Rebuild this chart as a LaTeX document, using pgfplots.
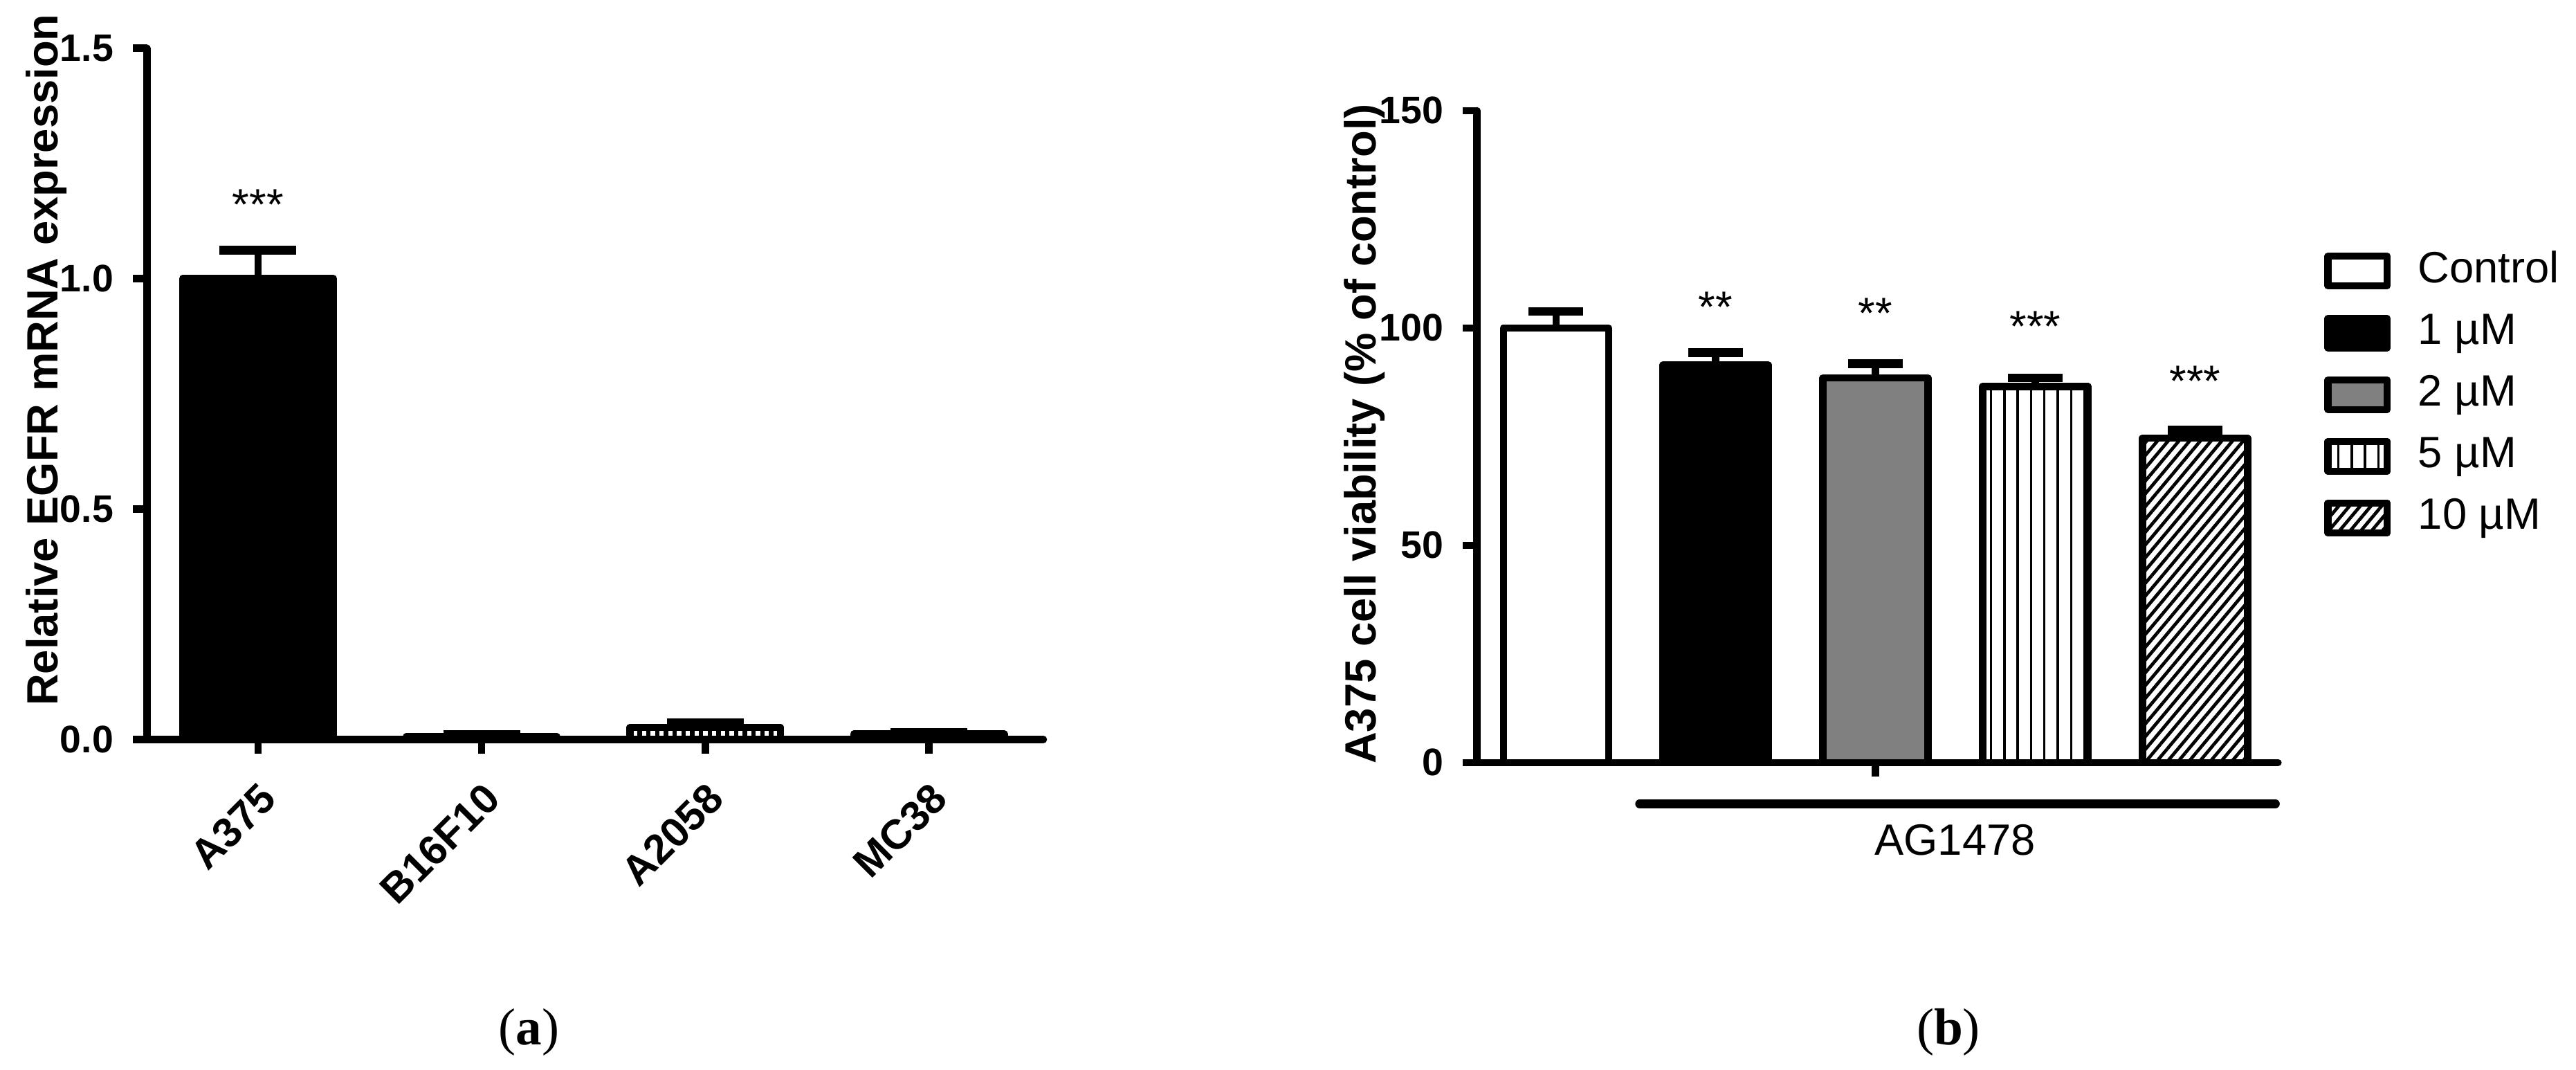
\documentclass[border=0pt]{standalone}
\usepackage{pgfplots}
\pgfplotsset{compat=1.18}
\usepackage{fontspec}
\setmainfont{Liberation Sans}
\newfontfamily\serif{Liberation Serif}
\usetikzlibrary{patterns,patterns.meta}

\begin{document}
\begin{tikzpicture}
\useasboundingbox (0,0) rectangle (470.4pt,195.3pt);
\tikzset{star/.style={font=\fontsize{8}{9}\selectfont}}
\pgfplotsset{
  gp/.style={
    scale only axis, axis x line*=bottom, axis y line*=left,
    axis line style={line width=1.3pt, line cap=round},
    tick style={line width=1.3pt, black},
    major tick length=2.6pt, tick align=outside,
    enlargelimits=false, clip=false,
    ybar, bar shift=0pt,
    tick label style={font=\fontsize{7}{8}\selectfont\bfseries},
    ylabel style={font=\fontsize{8}{9.6}\selectfont\bfseries},
    every axis plot/.append style={line width=1.3pt, draw=black, line join=round},
    /pgf/number format/assume math mode=true,
    error bars/y dir=plus, error bars/y explicit,
    error bars/error bar style={line width=1.3pt},
  },
}

% (a) EGFR mRNA expression
\begin{axis}[gp, at={(26.85pt,60.3pt)}, anchor=south west,
  width=163.7pt, height=126.2pt,
  xmin=-0.496, xmax=3.512, ymin=0, ymax=1.5,
  ytick={0,0.5,1,1.5},
  y tick label style={/pgf/number format/.cd, fixed, fixed zerofill, precision=1},
  xtick={0,1,2,3}, xticklabels={A375,B16F10,A2058,MC38},
  x tick label style={rotate=45, anchor=north east, font=\fontsize{7.6}{8.6}\selectfont\bfseries},
  ylabel={Relative EGFR mRNA expression},
  ylabel style={at={(axis description cs:-0.112,0.549)}, anchor=center},
  bar width=27.5pt,
  error bars/error mark options={mark size=7pt, line width=1.6pt, rotate=90},
]
\addplot[fill=black] coordinates {(0,1.0) +- (0,0.062) (1,0.006) +- (0,0.004) (3,0.012) +- (0,0.003)};
\addplot[preaction={fill=white}, pattern={Lines[angle=90,distance=1.6pt,line width=0.8pt]}] coordinates {(2,0.026) +- (0,0.010)};
\node[star] at (axis cs:0,1.16) {***};
\end{axis}

% (b) cell viability
\begin{axis}[gp, at={(269.7pt,56.1pt)}, anchor=south west,
  width=146.3pt, height=119pt,
  xmin=-0.494, xmax=4.52, ymin=0, ymax=150,
  ytick={0,50,100,150},
  xtick={2}, xticklabels={},
  ylabel={A375 cell viability (\% of control)},
  ylabel style={at={(axis description cs:-0.140,0.504)}, anchor=center},
  bar width=19.2pt,
  error bars/error mark options={mark size=5pt, line width=1.6pt, rotate=90},
  legend style={draw=none, fill=none, at={(axis description cs:1.036,0.82)}, anchor=north west,
    font=\fontsize{8}{9.6}\selectfont, row sep=0.2pt, column sep=3pt, cells={anchor=west}},
  legend image code/.code={\draw[#1, line width=1.3pt] (0pt,-2.7pt) rectangle (10.8pt,2.7pt);},
]
\addplot[fill=white] coordinates {(0,100) +- (0,3.8)};
\addlegendentry{Control}
\addplot[fill=black] coordinates {(1,91.5) +- (0,2.8)};
\addlegendentry{1 µM}
\addplot[fill=gray] coordinates {(2,88.5) +- (0,3.3)};
\addlegendentry{2 µM}
\addplot[preaction={fill=white}, pattern={Lines[angle=90,distance=2.44pt,line width=0.45pt]}] coordinates {(3,86.5) +- (0,2.0)};
\addlegendentry{5 µM}
\addplot[preaction={fill=white}, pattern={Lines[angle=50,distance=1.5pt,line width=0.6pt]}] coordinates {(4,74.6) +- (0,1.9)};
\addlegendentry{10 µM}
\node[star] at (axis cs:1,104.8) {**};
\node[star] at (axis cs:2,103.4) {**};
\node[star] at (axis cs:3,100.3) {***};
\node[star] at (axis cs:4,87.7) {***};
\draw[line width=1.6pt, line cap=round] (axis cs:0.524,-9.5) -- (axis cs:4.503,-9.5);
\node[font=\fontsize{8}{9.6}\selectfont] at (axis cs:2.498,-17.8) {AG1478};
\end{axis}

\node[font=\serif\fontsize{9.5}{11}\selectfont] at (96.6pt,6.9pt) {(\textbf{a})};
\node[font=\serif\fontsize{9.5}{11}\selectfont] at (355.8pt,6.9pt) {(\textbf{b})};
\end{tikzpicture}
\end{document}
